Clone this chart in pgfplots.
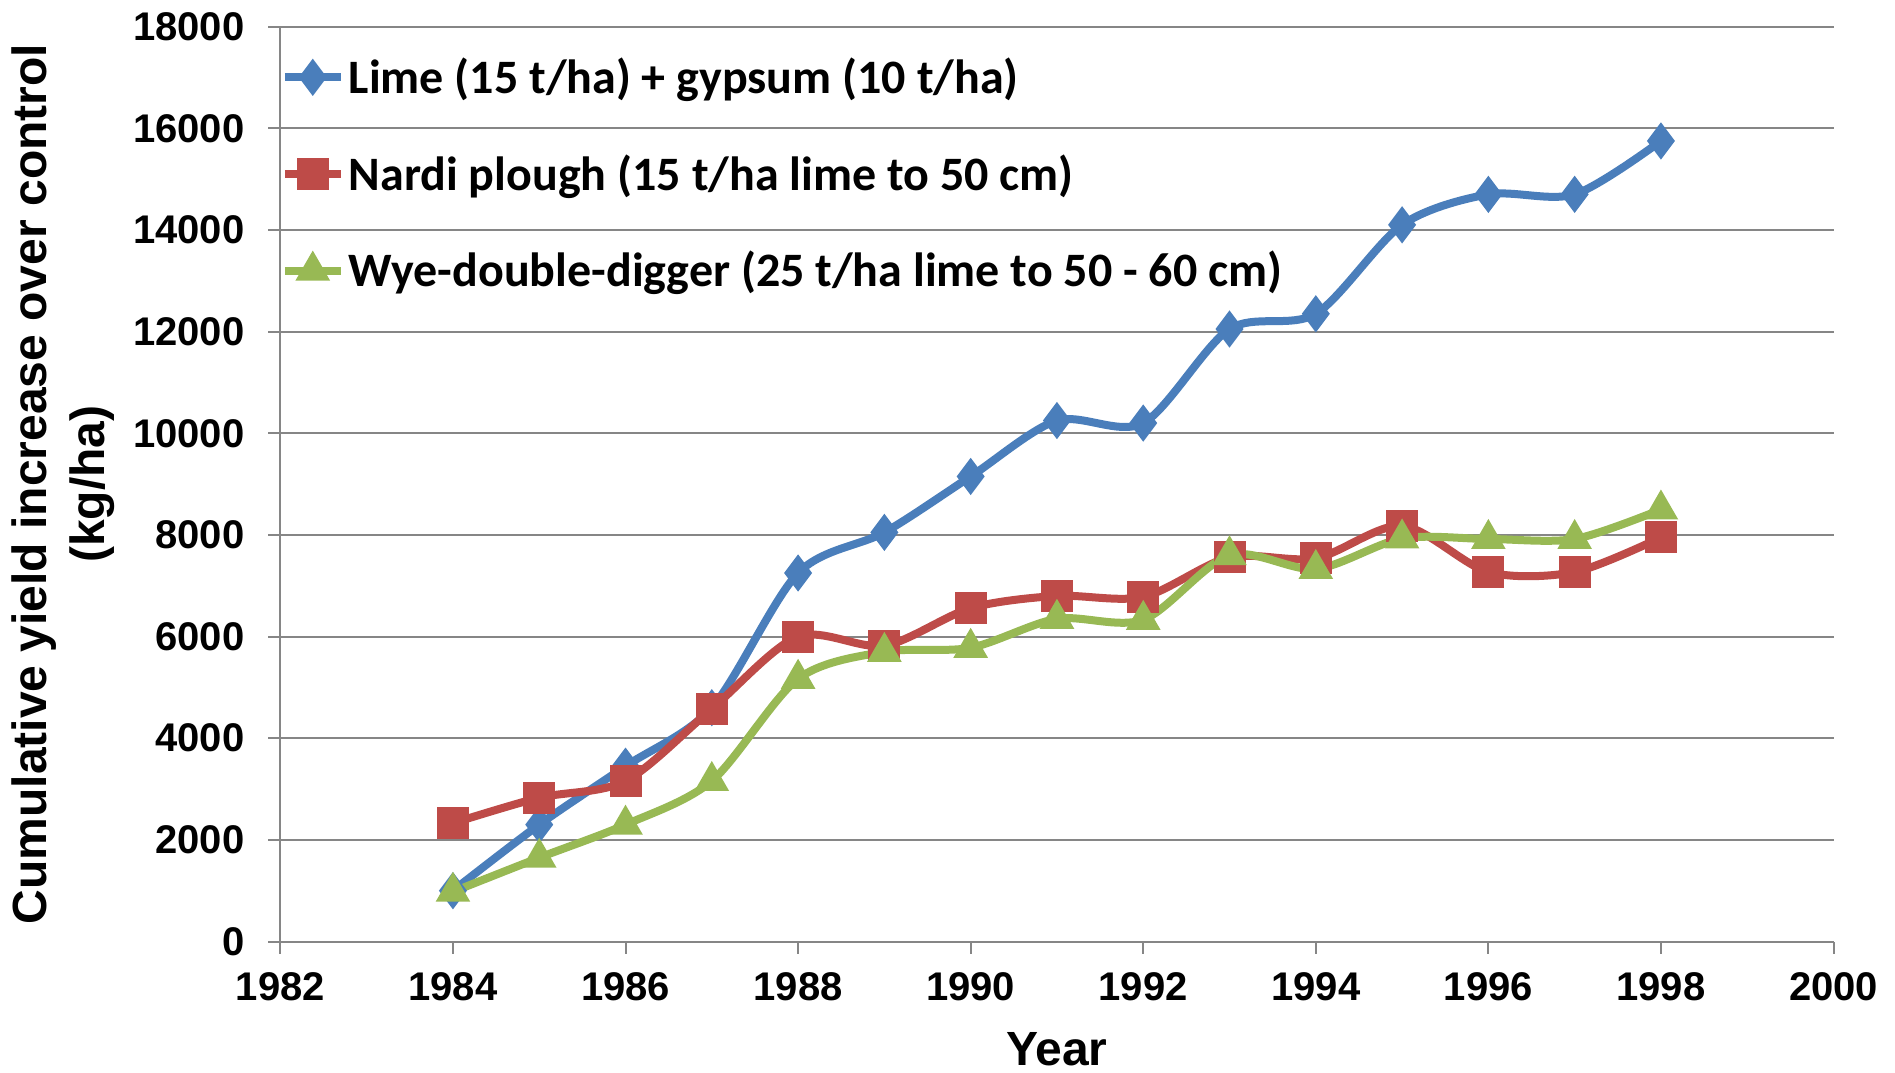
\documentclass[border=0pt]{standalone}
\usepackage{fontspec}
\setmainfont{Liberation Sans}
\newfontfamily\carlito{Carlito}
\usepackage{pgfplots}
\pgfplotsset{compat=1.18}
\definecolor{cBlue}{RGB}{74,126,187}
\definecolor{cRed}{RGB}{190,75,72}
\definecolor{cGreen}{RGB}{152,185,84}
\definecolor{cGrid}{RGB}{134,134,134}
\begin{document}
\begin{tikzpicture}
\path[use as bounding box] (-140.2pt,-65.25pt) rectangle (807.35pt,470.8pt);
\begin{axis}[
  scale only axis, width=776.6pt, height=457.5pt,
  at={(0,0)}, anchor=south west,
  xmin=1982, xmax=2000, ymin=0, ymax=18000,
  xtick={1982,1984,...,2000}, ytick={0,2000,...,18000},
  axis lines=left, axis line style={-, cGrid, line width=1pt},
  tick align=outside, major tick length=6pt, tick style={cGrid, line width=1pt},
  ymajorgrids, grid style={cGrid, line width=1pt},
  scaled ticks=false,
  /pgf/number format/1000 sep={},
  /pgf/number format/assume math mode=true,
  ticklabel style={font=\fontsize{20}{24}\selectfont\bfseries, text=black},
  xticklabel style={yshift=-6pt},
  yticklabel style={xshift=-8.5pt},
  xlabel={Year}, ylabel={Cumulative yield increase over control\\(kg/ha)},
  label style={font=\fontsize{24}{29}\selectfont\bfseries},
  xlabel style={yshift=-12pt, inner sep=0pt},
  ylabel style={align=center, at={(axis description cs:-0.102,0.5)}, anchor=south, rotate=0},
  legend cell align=left,
  legend style={draw=none, fill=none, at={(axis description cs:0,1)}, anchor=north west,
    yshift=-11.5pt, xshift=-3pt, font=\carlito\bfseries\fontsize{24}{28}\selectfont, row sep=25pt},
  legend image code/.code={\draw[mark repeat=2,mark phase=2] plot coordinates {(0pt,0pt) (14pt,0pt) (28pt,0pt)};},
  every axis plot/.append style={line width=4pt, smooth, tension=0.5},
]
\addplot[cBlue, mark=diamond*, mark size=8.5pt, mark options={solid, line width=1pt, fill=cBlue}] coordinates {
 (1984,1000) (1985,2300) (1986,3450) (1987,4600) (1988,7250) (1989,8050) (1990,9150)
 (1991,10250) (1992,10200) (1993,12050) (1994,12350) (1995,14100) (1996,14700) (1997,14700) (1998,15750)};
\addlegendentry{Lime (15 t/ha) + gypsum (10 t/ha)}
\addplot[cRed, mark=square*, mark size=7.5pt, mark options={solid, line width=1pt, fill=cRed, rounded corners=1.5pt}] coordinates {
 (1984,2330) (1985,2830) (1986,3160) (1987,4580) (1988,6000) (1989,5820) (1990,6560)
 (1991,6800) (1992,6780) (1993,7560) (1994,7540) (1995,8180) (1996,7270) (1997,7270) (1998,7950)};
\addlegendentry{Nardi plough (15 t/ha lime to 50 cm)}
\addplot[cGreen, mark=triangle*, mark size=9pt, mark options={solid, line width=1pt, fill=cGreen}] coordinates {
 (1984,980) (1985,1650) (1986,2300) (1987,3160) (1988,5170) (1989,5700) (1990,5780)
 (1991,6350) (1992,6330) (1993,7600) (1994,7330) (1995,7930) (1996,7920) (1997,7920) (1998,8500)};
\addlegendentry{Wye-double-digger (25 t/ha lime to 50 - 60 cm)}
\end{axis}
\end{tikzpicture}
\end{document}
